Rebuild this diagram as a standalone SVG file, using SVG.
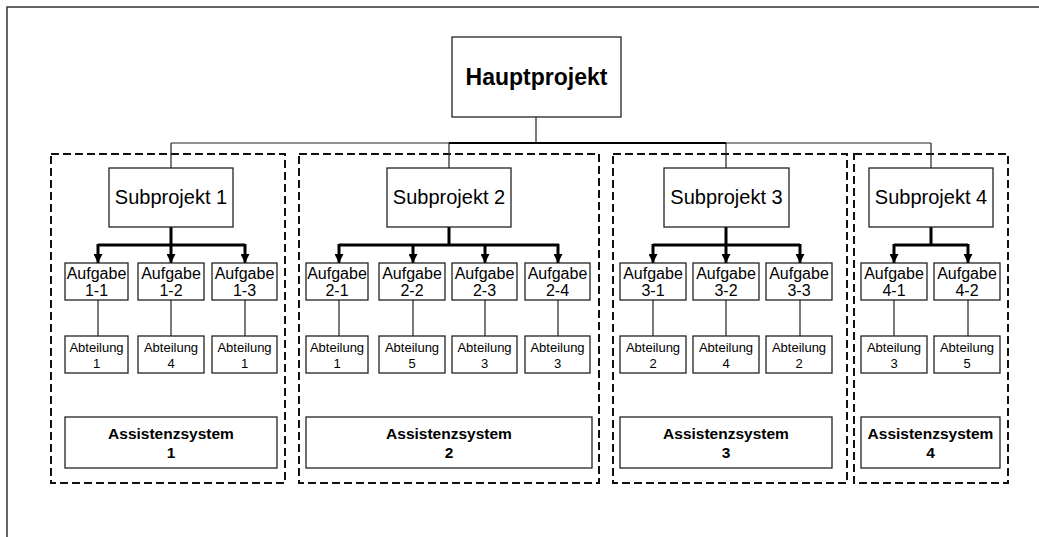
<svg xmlns="http://www.w3.org/2000/svg" width="1039" height="537" viewBox="0 0 1039 537">
<defs>
<style>
.bx{fill:#fff;stroke:#222;stroke-width:1.3}
.grp{fill:none;stroke:#111;stroke-width:2;stroke-dasharray:8 4}
.thin{fill:none;stroke:#222;stroke-width:1.2}
.thick{fill:none;stroke:#000;stroke-width:3}
text{font-family:"Liberation Sans",Arial,sans-serif;fill:#000;text-anchor:middle}
.hp{font-size:23px;font-weight:bold}
.sp{font-size:20px}
.au{font-size:16px}
.ab{font-size:13px}
.as{font-size:15.5px;font-weight:bold}
</style>
<marker id="ah" viewBox="0 0 10 10" refX="10" refY="5" markerWidth="3" markerHeight="3" orient="auto" markerUnits="strokeWidth">
<path d="M0,0 L10,5 L0,10 Z" fill="#000"/>
</marker>
</defs>
<rect width="1039" height="537" fill="#fff"/>
<rect x="7" y="7" width="1040" height="540" fill="none" stroke="#333" stroke-width="1.5"/>

<g id="groups">
<rect class="grp" x="51" y="154" width="234" height="329"/>
<rect class="grp" x="299" y="154" width="300" height="329"/>
<rect class="grp" x="613" y="154" width="234" height="329"/>
<rect class="grp" x="854" y="154" width="154" height="329"/>
</g>

<g id="connectors">
<path class="thin" d="M536,117 V143 M171,143 H449 M726,143 H931 M171,143 V168 M449,143 V168 M726,143 V168 M931,143 V168"/>
<path d="M449,143 H726" stroke="#000" stroke-width="2"/>
<path class="thick" d="M171,227 V245 M98,245 H245 M449,227 V245 M339,245 H559 M726,227 V245 M653,245 H800 M931,227 V245 M894,245 H968"/>
<g class="thick" marker-end="url(#ah)">
<path d="M98,244 V263"/><path d="M171,244 V263"/><path d="M245,244 V263"/>
<path d="M339,244 V263"/><path d="M413,244 V263"/><path d="M485,244 V263"/><path d="M558,244 V263"/>
<path d="M653,244 V263"/><path d="M726,244 V263"/><path d="M800,244 V263"/>
<path d="M894,244 V263"/><path d="M968,244 V263"/>
</g>
<path class="thin" d="M98,300 V336 M171,300 V336 M245,300 V336 M339,300 V336 M413,300 V336 M485,300 V336 M558,300 V336 M653,300 V336 M726,300 V336 M800,300 V336 M894,300 V336 M968,300 V336"/>
</g>

<g id="hauptprojekt"><rect class="bx" x="452" y="37" width="169" height="80"/><text class="hp" x="536.5" y="85">Hauptprojekt</text></g>

<g id="sub1"><rect class="bx" x="109" y="168" width="124" height="59"/><text class="sp" x="171" y="204">Subprojekt 1</text></g>
<g id="sub2"><rect class="bx" x="387" y="168" width="124" height="59"/><text class="sp" x="449" y="204">Subprojekt 2</text></g>
<g id="sub3"><rect class="bx" x="664" y="168" width="125" height="59"/><text class="sp" x="726.5" y="204">Subprojekt 3</text></g>
<g id="sub4"><rect class="bx" x="869" y="168" width="124" height="59"/><text class="sp" x="931" y="204">Subprojekt 4</text></g>

<g id="a11"><rect class="bx" x="65" y="263" width="63" height="37"/><text class="au" x="96.5" y="279">Aufgabe</text><text class="au" x="96.5" y="296">1-1</text></g>
<g id="a12"><rect class="bx" x="138" y="263" width="66" height="37"/><text class="au" x="171" y="279">Aufgabe</text><text class="au" x="171" y="296">1-2</text></g>
<g id="a13"><rect class="bx" x="212" y="263" width="65" height="37"/><text class="au" x="244.5" y="279">Aufgabe</text><text class="au" x="244.5" y="296">1-3</text></g>
<g id="a21"><rect class="bx" x="306" y="263" width="62" height="37"/><text class="au" x="337" y="279">Aufgabe</text><text class="au" x="337" y="296">2-1</text></g>
<g id="a22"><rect class="bx" x="379" y="263" width="66" height="37"/><text class="au" x="412" y="279">Aufgabe</text><text class="au" x="412" y="296">2-2</text></g>
<g id="a23"><rect class="bx" x="452" y="263" width="65" height="37"/><text class="au" x="484.5" y="279">Aufgabe</text><text class="au" x="484.5" y="296">2-3</text></g>
<g id="a24"><rect class="bx" x="525" y="263" width="65" height="37"/><text class="au" x="557.5" y="279">Aufgabe</text><text class="au" x="557.5" y="296">2-4</text></g>
<g id="a31"><rect class="bx" x="620" y="263" width="66" height="37"/><text class="au" x="653" y="279">Aufgabe</text><text class="au" x="653" y="296">3-1</text></g>
<g id="a32"><rect class="bx" x="693" y="263" width="66" height="37"/><text class="au" x="726" y="279">Aufgabe</text><text class="au" x="726" y="296">3-2</text></g>
<g id="a33"><rect class="bx" x="766" y="263" width="66" height="37"/><text class="au" x="799" y="279">Aufgabe</text><text class="au" x="799" y="296">3-3</text></g>
<g id="a41"><rect class="bx" x="861" y="263" width="66" height="37"/><text class="au" x="894" y="279">Aufgabe</text><text class="au" x="894" y="296">4-1</text></g>
<g id="a42"><rect class="bx" x="934" y="263" width="66" height="37"/><text class="au" x="967" y="279">Aufgabe</text><text class="au" x="967" y="296">4-2</text></g>

<g id="b11"><rect class="bx" x="65" y="336" width="63" height="37"/><text class="ab" x="96.5" y="352">Abteilung</text><text class="ab" x="96.5" y="368">1</text></g>
<g id="b12"><rect class="bx" x="138" y="336" width="66" height="37"/><text class="ab" x="171" y="352">Abteilung</text><text class="ab" x="171" y="368">4</text></g>
<g id="b13"><rect class="bx" x="212" y="336" width="65" height="37"/><text class="ab" x="244.5" y="352">Abteilung</text><text class="ab" x="244.5" y="368">1</text></g>
<g id="b21"><rect class="bx" x="306" y="336" width="62" height="37"/><text class="ab" x="337" y="352">Abteilung</text><text class="ab" x="337" y="368">1</text></g>
<g id="b22"><rect class="bx" x="379" y="336" width="66" height="37"/><text class="ab" x="412" y="352">Abteilung</text><text class="ab" x="412" y="368">5</text></g>
<g id="b23"><rect class="bx" x="452" y="336" width="65" height="37"/><text class="ab" x="484.5" y="352">Abteilung</text><text class="ab" x="484.5" y="368">3</text></g>
<g id="b24"><rect class="bx" x="525" y="336" width="65" height="37"/><text class="ab" x="557.5" y="352">Abteilung</text><text class="ab" x="557.5" y="368">3</text></g>
<g id="b31"><rect class="bx" x="620" y="336" width="66" height="37"/><text class="ab" x="653" y="352">Abteilung</text><text class="ab" x="653" y="368">2</text></g>
<g id="b32"><rect class="bx" x="693" y="336" width="66" height="37"/><text class="ab" x="726" y="352">Abteilung</text><text class="ab" x="726" y="368">4</text></g>
<g id="b33"><rect class="bx" x="766" y="336" width="66" height="37"/><text class="ab" x="799" y="352">Abteilung</text><text class="ab" x="799" y="368">2</text></g>
<g id="b41"><rect class="bx" x="861" y="336" width="66" height="37"/><text class="ab" x="894" y="352">Abteilung</text><text class="ab" x="894" y="368">3</text></g>
<g id="b42"><rect class="bx" x="934" y="336" width="66" height="37"/><text class="ab" x="967" y="352">Abteilung</text><text class="ab" x="967" y="368">5</text></g>

<g id="as1"><rect class="bx" x="65" y="417" width="212" height="51"/><text class="as" x="171" y="439">Assistenzsystem</text><text class="as" x="171" y="458">1</text></g>
<g id="as2"><rect class="bx" x="306" y="417" width="286" height="51"/><text class="as" x="449" y="439">Assistenzsystem</text><text class="as" x="449" y="458">2</text></g>
<g id="as3"><rect class="bx" x="620" y="417" width="212" height="51"/><text class="as" x="726" y="439">Assistenzsystem</text><text class="as" x="726" y="458">3</text></g>
<g id="as4"><rect class="bx" x="861" y="417" width="139" height="51"/><text class="as" x="930.5" y="439">Assistenzsystem</text><text class="as" x="930.5" y="458">4</text></g>
</svg>
